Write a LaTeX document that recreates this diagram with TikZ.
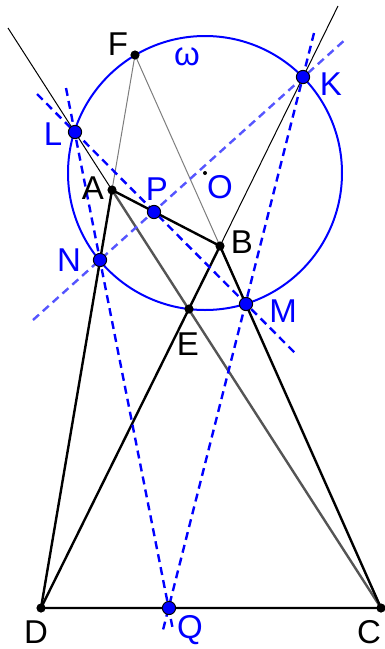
\documentclass[tikz,border=0pt]{standalone}
\usepackage{fontspec}
\setmainfont{Liberation Sans}
\usetikzlibrary{positioning}
\definecolor{ltblue}{RGB}{85,85,255}
\definecolor{dgray}{RGB}{85,85,85}
\definecolor{mgray}{RGB}{125,125,125}

\begin{document}
\begin{tikzpicture}[
  x=0.5pt, y=-0.5pt,
  seg/.style={line width=1.2pt, line cap=round},
  thinline/.style={line width=0.5pt},
  dashline/.style={blue, line width=1.2pt, dash pattern=on 4pt off 2.6pt},
  bdot/.style={circle, fill=black, inner sep=0pt, minimum size=4.6pt},
  pdot/.style={circle, draw=black, fill=blue, line width=0.5pt, inner sep=0pt, minimum size=6.6pt},
  lbl/.style={font=\fontsize{16.5}{19}\selectfont, inner sep=0pt}
]
\useasboundingbox (0,0) rectangle (385,649);

% Points
\coordinate (A) at (112,190);
\coordinate (B) at (220,246);
\coordinate (C) at (381,608);
\coordinate (D) at (41,608);
\coordinate (E) at (189,309);
\coordinate (F) at (135,55);
\coordinate (O) at (205,173);
\coordinate (K) at (303,77);
\coordinate (L) at (75,132);
\coordinate (N) at (100,260);
\coordinate (P) at (154,212);
\coordinate (M) at (246,304);
\coordinate (Q) at (169,608);

% Free ends of the long lines
\coordinate (CAend) at (8,28);
\coordinate (DBend) at (338,6);
\coordinate (LMa) at (37,94);
\coordinate (LMb) at (295,353);
\coordinate (NKa) at (33,320);
\coordinate (NKb) at (347,38);
\coordinate (LQa) at (66,88);
\coordinate (LQb) at (173,630);
\coordinate (KQa) at (314,33);
\coordinate (KQb) at (163,630);

% Circle omega
\draw[blue, line width=1pt] (O) circle (137);

% Lines
\draw[thinline] (A) -- (CAend);
\draw[thinline] (B) -- (DBend);
\draw[mgray, thinline] (F) -- (A);
\draw[mgray, thinline] (F) -- (B);
\draw[dgray, seg] (A) -- (C);
\draw[seg] (A) -- (B) -- (C) -- (D) -- cycle;
\draw[seg] (D) -- (B);

\draw[dashline] (LMa) -- (LMb);
\draw[dashline, ltblue] (NKa) -- (NKb);
\draw[dashline] (LQa) -- (LQb);
\draw[dashline] (KQa) -- (KQb);

% Dots
\foreach \p in {A,B,C,D,E,F}
  \node[bdot] (d\p) at (\p) {};
\node[circle, fill=black, inner sep=0pt, minimum size=2pt] (dO) at (O) {};
\foreach \p in {K,L,N,P,M,Q}
  \node[pdot] (d\p) at (\p) {};

% Labels
\node[lbl] (lF) at (118,44) {F};
\node[lbl, blue] (lw) at (187,57) {ω};
\node[lbl, blue] (lK) at (331,84) {K};
\node[lbl, blue] (lL) at (53,134) {L};
\node[lbl] (lA) at (93,188) {A};
\node[lbl, blue] (lP) at (157,189) {P};
\node[lbl, blue] (lO) at (220,187) {O};
\node[lbl] (lB) at (242,242) {B};
\node[lbl, blue] (lN) at (69,260) {N};
\node[lbl] (lE) at (188,344) {E};
\node[lbl, blue] (lM) at (283,311) {M};
\node[lbl] (lD) at (36,632) {D};
\node[lbl, blue] (lQ) at (190,630) {Q};
\node[lbl] (lC) at (369,632) {C};

\end{tikzpicture}
\end{document}
